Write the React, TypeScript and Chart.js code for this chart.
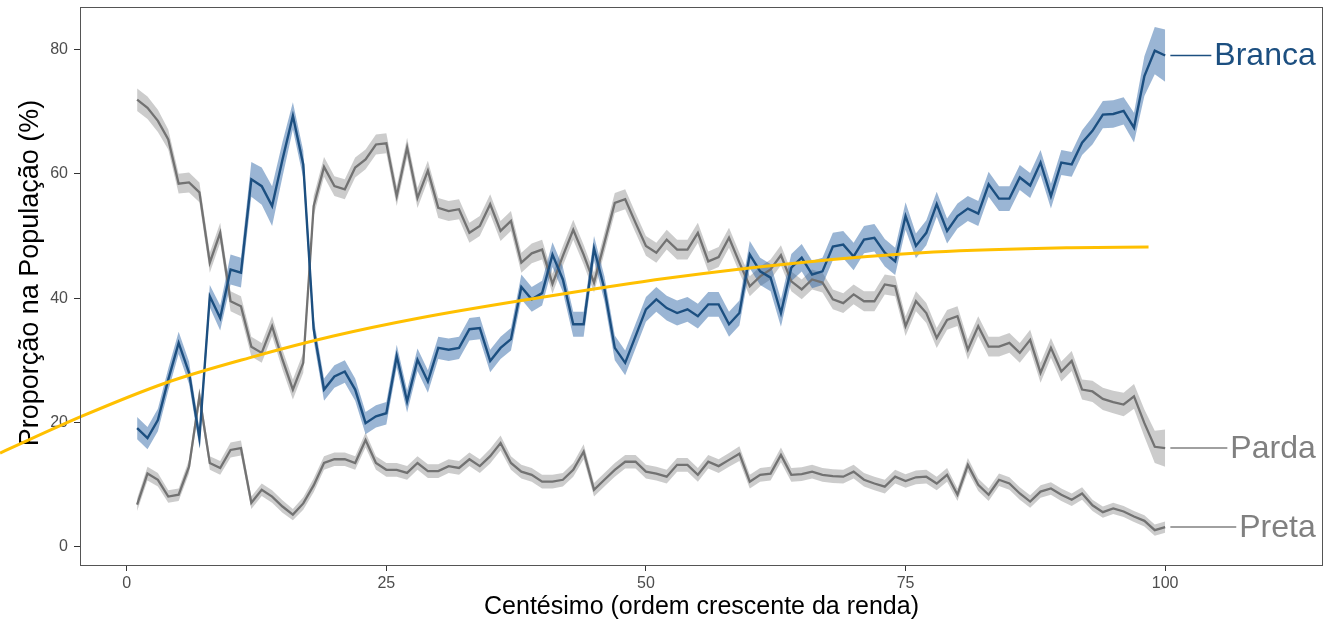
import React, { useEffect, useRef } from 'react';
import { Chart, registerables } from 'chart.js';

Chart.register(...registerables);

const FONT = '"Liberation Sans", Arial, Helvetica, sans-serif';

const centiles: number[] = Array.from({ length: 100 }, (_, i) => i + 1);

const branca: number[] = [
  19.1, 17.5, 20.4, 26.9, 32.8, 28.0, 17.5, 40.3, 36.8, 44.6,
  44.1, 59.1, 58.0, 54.8, 62.3, 69.3, 61.5, 35.0, 25.3, 27.4,
  28.2, 25.3, 19.9, 21.0, 21.5, 30.7, 23.4, 30.1, 26.6, 32.0,
  31.7, 32.0, 35.0, 35.2, 29.9, 32.0, 33.4, 41.8, 39.8, 40.8,
  47.0, 43.0, 35.8, 35.8, 48.0, 41.5, 32.0, 29.6, 33.9, 38.2,
  39.8, 38.4, 37.6, 38.2, 37.1, 39.0, 39.0, 35.8, 37.6, 47.0,
  44.3, 43.3, 37.6, 44.9, 46.5, 43.8, 44.3, 48.3, 48.6, 46.7,
  49.4, 49.7, 47.3, 45.9, 53.2, 48.4, 50.5, 55.1, 50.8, 53.2,
  54.4, 53.6, 58.3, 56.0, 56.0, 59.4, 58.1, 61.8, 56.4, 61.8,
  61.5, 65.0, 66.9, 69.5, 69.6, 70.1, 67.4, 75.7, 79.8, 79.0,
];

const parda: number[] = [
  71.9, 70.6, 68.5, 65.5, 58.4, 58.6, 57.0, 45.7, 50.5, 39.5,
  38.7, 32.2, 31.2, 35.5, 30.1, 25.3, 29.6, 54.8, 61.1, 58.0,
  57.5, 61.0, 62.3, 64.7, 64.9, 56.4, 64.2, 56.1, 60.5, 54.5,
  54.0, 54.3, 50.5, 51.6, 55.1, 50.8, 52.4, 45.7, 47.2, 47.8,
  42.3, 46.8, 51.0, 47.0, 42.5, 48.9, 55.3, 55.9, 52.1, 48.4,
  47.3, 49.4, 47.8, 47.8, 50.5, 45.9, 46.6, 49.7, 45.7, 41.9,
  43.5, 44.6, 46.9, 42.7, 41.4, 43.0, 42.5, 39.8, 39.2, 40.6,
  39.5, 39.5, 42.2, 41.9, 35.5, 39.5, 37.6, 33.6, 36.5, 37.1,
  31.7, 35.5, 32.2, 32.2, 32.8, 31.2, 33.3, 28.0, 32.0, 28.2,
  29.9, 25.3, 25.0, 23.8, 23.3, 22.9, 24.2, 19.9, 16.1, 15.9,
];

const preta: number[] = [
  6.8, 11.8, 10.8, 8.1, 8.4, 12.9, 24.2, 13.5, 12.7, 15.6,
  15.9, 7.1, 9.2, 8.1, 6.5, 5.2, 7.0, 9.9, 13.5, 14.1,
  14.1, 13.5, 17.2, 13.5, 12.4, 12.4, 11.9, 13.5, 12.2, 12.2,
  13.0, 12.7, 14.1, 13.0, 14.6, 16.7, 13.5, 12.1, 11.6, 10.5,
  10.5, 10.8, 12.4, 15.3, 9.2, 10.8, 12.4, 13.7, 13.7, 12.1,
  11.8, 11.3, 13.2, 13.2, 11.6, 13.7, 13.0, 14.0, 15.0, 10.5,
  11.6, 11.8, 14.8, 11.6, 11.7, 12.1, 11.6, 11.4, 11.3, 12.1,
  10.8, 10.2, 9.7, 11.3, 10.6, 11.2, 11.3, 10.2, 11.6, 8.4,
  13.2, 10.0, 8.4, 10.8, 10.2, 8.6, 7.3, 8.9, 9.4, 8.4,
  7.6, 8.6, 6.7, 5.6, 6.2, 5.7, 4.9, 4.2, 2.7, 3.2,
];

// half-widths of the confidence bands (percentage points)
const brancaBand: number[] = [
  1.8, 1.8, 1.8, 1.8, 1.8, 1.8, 1.5, 1.8, 2.0, 2.4,
  2.4, 2.8, 3.0, 3.2, 2.8, 2.2, 2.2, 1.8, 1.8, 1.8,
  1.8, 1.8, 1.8, 1.8, 1.8, 1.8, 1.8, 1.8, 1.8, 1.8,
  1.8, 1.8, 1.8, 1.8, 1.8, 1.8, 1.8, 2.0, 2.0, 2.0,
  2.0, 2.0, 2.0, 2.0, 2.0, 2.0, 2.0, 2.0, 2.0, 2.0,
  2.0, 2.0, 2.0, 2.0, 2.0, 2.0, 2.0, 2.0, 2.0, 2.2,
  2.2, 2.2, 2.2, 2.2, 2.2, 2.2, 2.2, 2.2, 2.2, 2.2,
  2.2, 2.2, 2.2, 2.2, 2.2, 2.0, 2.0, 2.0, 2.0, 2.0,
  2.0, 2.0, 2.0, 2.0, 2.0, 2.0, 2.0, 2.0, 2.0, 2.0,
  2.0, 2.0, 2.2, 2.2, 2.2, 2.2, 2.4, 3.2, 3.8, 4.2,
];

const pardaBand: number[] = [
  1.8, 1.8, 1.8, 1.6, 1.6, 1.6, 1.6, 1.6, 1.6, 1.6,
  1.6, 1.6, 1.6, 1.6, 1.6, 1.6, 1.6, 1.6, 1.6, 1.6,
  1.6, 1.6, 1.6, 1.6, 1.6, 1.6, 1.6, 1.6, 1.6, 1.6,
  1.6, 1.6, 1.6, 1.6, 1.6, 1.6, 1.6, 1.6, 1.6, 1.6,
  1.6, 1.6, 1.6, 1.6, 1.6, 1.6, 1.6, 1.6, 1.6, 1.6,
  1.6, 1.6, 1.6, 1.6, 1.6, 1.6, 1.6, 1.6, 1.6, 1.6,
  1.6, 1.6, 1.6, 1.6, 1.6, 1.6, 1.6, 1.6, 1.6, 1.6,
  1.6, 1.6, 1.6, 1.6, 1.6, 1.6, 1.6, 1.6, 1.6, 1.6,
  1.6, 1.6, 1.6, 1.6, 1.6, 1.6, 1.6, 1.6, 1.6, 1.6,
  1.6, 1.6, 1.7, 1.8, 1.8, 1.9, 2.0, 2.2, 2.6, 3.0,
];

const pretaBand: number[] = [
  1.0, 1.1, 1.1, 1.0, 1.0, 1.1, 1.4, 1.1, 1.1, 1.2,
  1.2, 1.0, 1.0, 1.0, 1.0, 0.9, 1.0, 1.1, 1.1, 1.1,
  1.1, 1.1, 1.2, 1.1, 1.1, 1.1, 1.1, 1.1, 1.1, 1.1,
  1.1, 1.1, 1.1, 1.1, 1.2, 1.2, 1.1, 1.1, 1.1, 1.1,
  1.1, 1.1, 1.1, 1.2, 1.1, 1.1, 1.1, 1.1, 1.1, 1.1,
  1.1, 1.1, 1.1, 1.1, 1.1, 1.1, 1.1, 1.1, 1.2, 1.1,
  1.1, 1.1, 1.2, 1.1, 1.1, 1.1, 1.1, 1.1, 1.1, 1.1,
  1.1, 1.1, 1.1, 1.1, 1.1, 1.1, 1.1, 1.1, 1.1, 1.0,
  1.1, 1.0, 1.0, 1.0, 1.0, 1.0, 1.0, 1.0, 1.0, 1.0,
  1.0, 1.0, 0.9, 0.9, 0.9, 0.9, 0.9, 0.9, 0.9, 0.9,
];

// fitted (yellow) curve
const curveX: number[] = [-12.2, -4.2, 3.8, 11.8, 19.9, 28.2, 39.1, 52.0, 64.8, 77.7, 90.5, 98.4];
const curveY: number[] = [15.1, 21.1, 26.4, 30.4, 33.9, 36.8, 39.9, 43.2, 45.7, 47.4, 48.1, 48.2];

const xTicks: number[] = [0, 25, 50, 75, 100];
const yTicks: number[] = [0, 20, 40, 60, 80];

const seriesNames: string[] = ['Branca', 'Parda', 'Preta'];
const xTitle = 'Centésimo (ordem crescente da renda)';
const yTitle = 'Proporção na População (%)';

const BLUE = '#1c4f80';
const BLUE_BAND = 'rgba(30,90,160,0.45)';
const GREY = '#727272';
const GREY_TEXT = '#808080';
const GREY_BAND = 'rgba(120,120,120,0.38)';
const ORANGE = '#FFC000';

const pts = (vals: number[], off: number[] = [], sign = 0) =>
  centiles.map((c, i) => ({ x: c, y: vals[i] + sign * (off[i] || 0) }));

const labelPlugin = {
  id: 'labelsAndFrame',
  afterDraw(chart: any) {
    const { ctx, chartArea, scales } = chart;
    const xs = scales.x;
    const ys = scales.y;
    const series = [
      { name: seriesNames[0], vals: branca, color: BLUE },
      { name: seriesNames[1], vals: parda, color: GREY_TEXT },
      { name: seriesNames[2], vals: preta, color: GREY_TEXT },
    ];
    ctx.save();
    ctx.font = `32px ${FONT}`;
    ctx.textBaseline = 'middle';
    ctx.textAlign = 'right';
    const textRight = xs.getPixelForValue(114.5);
    series.forEach((s) => {
      const lastX = centiles[centiles.length - 1];
      const lastY = s.vals[s.vals.length - 1];
      const py = ys.getPixelForValue(lastY);
      const w = ctx.measureText(s.name).width;
      const x0 = xs.getPixelForValue(lastX + 0.5);
      const x1 = textRight - w - 3;
      ctx.strokeStyle = s.color;
      ctx.lineWidth = 1.5;
      ctx.beginPath();
      ctx.moveTo(x0, py);
      ctx.lineTo(x1, py);
      ctx.stroke();
      ctx.fillStyle = s.color;
      ctx.fillText(s.name, textRight, py + 1);
    });
    // panel frame
    ctx.strokeStyle = '#555555';
    ctx.lineWidth = 1;
    ctx.strokeRect(
      Math.round(chartArea.left) + 0.5,
      Math.round(chartArea.top) + 0.5,
      Math.round(chartArea.right - chartArea.left) - 1,
      Math.round(chartArea.bottom - chartArea.top)
    );
    ctx.restore();
  },
  beforeDatasetsDraw(chart: any) {
    // y axis title (centred like the reference)
    const { ctx } = chart;
    ctx.save();
    ctx.translate(31, 273);
    ctx.rotate(-Math.PI / 2);
    ctx.font = `27px ${FONT}`;
    ctx.fillStyle = '#000000';
    ctx.textAlign = 'center';
    ctx.textBaseline = 'middle';
    ctx.fillText(yTitle, 0, 0);
    ctx.restore();
  },
};

export default function App() {
  const ref = useRef<HTMLCanvasElement | null>(null);

  useEffect(() => {
    if (!ref.current) return;
    const bandSets: any[] = [];
    const bandDefs = [
      { vals: branca, band: brancaBand, color: BLUE_BAND },
      { vals: parda, band: pardaBand, color: GREY_BAND },
      { vals: preta, band: pretaBand, color: GREY_BAND },
    ];
    bandDefs.forEach((b, i) => {
      bandSets.push({
        label: 'upper' + i,
        data: pts(b.vals, b.band, 1),
        borderWidth: 0,
        pointRadius: 0,
        backgroundColor: b.color,
        fill: { target: i * 2 + 1 },
        order: 3,
      });
      bandSets.push({
        label: 'lower' + i,
        data: pts(b.vals, b.band, -1),
        borderWidth: 0,
        pointRadius: 0,
        fill: false,
        order: 3,
      });
    });
    const lineSets: any[] = [
      { label: seriesNames[2], data: pts(preta), borderColor: GREY, borderWidth: 2.3, order: 2 },
      { label: seriesNames[1], data: pts(parda), borderColor: GREY, borderWidth: 2.3, order: 2 },
      { label: seriesNames[0], data: pts(branca), borderColor: BLUE, borderWidth: 2.4, order: 1 },
    ].map((d) => ({ ...d, pointRadius: 0, fill: false, tension: 0 }));
    const curveSet = {
      label: 'curve',
      data: curveX.map((x, i) => ({ x, y: curveY[i] })),
      borderColor: ORANGE,
      borderWidth: 3,
      pointRadius: 0,
      fill: false,
      cubicInterpolationMode: 'monotone',
      clip: false,
      order: 0,
    };

    const tickFont = { family: FONT, size: 16 };
    const chart = new Chart(ref.current, {
      type: 'line',
      data: { datasets: [...bandSets, ...lineSets, curveSet] as any },
      options: {
        animation: false,
        responsive: false,
        devicePixelRatio: 1,
        layout: { padding: { top: 7, right: 5, left: 0, bottom: 0 } },
        plugins: { legend: { display: false }, tooltip: { enabled: false } },
        scales: {
          x: {
            type: 'linear',
            min: -4.5,
            max: 115.2,
            afterBuildTicks: (s: any) => {
              s.ticks = xTicks.map((v) => ({ value: v }));
            },
            afterFit: (s: any) => {
              s.height = 61;
              s.paddingLeft = 0;
              s.paddingRight = 0;
            },
            grid: { drawOnChartArea: false, tickLength: 6, tickColor: '#333333', tickWidth: 1 },
            border: { display: false },
            ticks: { color: '#4d4d4d', font: tickFont, padding: 3, maxRotation: 0, autoSkip: false },
            title: {
              display: true,
              text: xTitle,
              color: '#000000',
              font: { family: FONT, size: 25 },
              padding: { top: 0, bottom: 4 },
            },
          },
          y: {
            type: 'linear',
            min: -2.9,
            max: 86.8,
            afterBuildTicks: (s: any) => {
              s.ticks = yTicks.map((v) => ({ value: v }));
            },
            afterFit: (s: any) => {
              s.width = 80;
              s.paddingTop = 0;
              s.paddingBottom = 0;
            },
            grid: { drawOnChartArea: false, tickLength: 6, tickColor: '#333333', tickWidth: 1 },
            border: { display: false },
            ticks: { color: '#4d4d4d', font: tickFont, padding: 6, autoSkip: false },
            title: { display: false },
          },
        },
      } as any,
      plugins: [labelPlugin],
    });
    return () => chart.destroy();
  }, []);

  return (
    <div style={{ position: 'absolute', left: 0, top: 0, width: 1328, height: 626, background: '#ffffff' }}>
      <canvas ref={ref} width={1328} height={626} style={{ width: 1328, height: 626, display: 'block' }} />
    </div>
  );
}
